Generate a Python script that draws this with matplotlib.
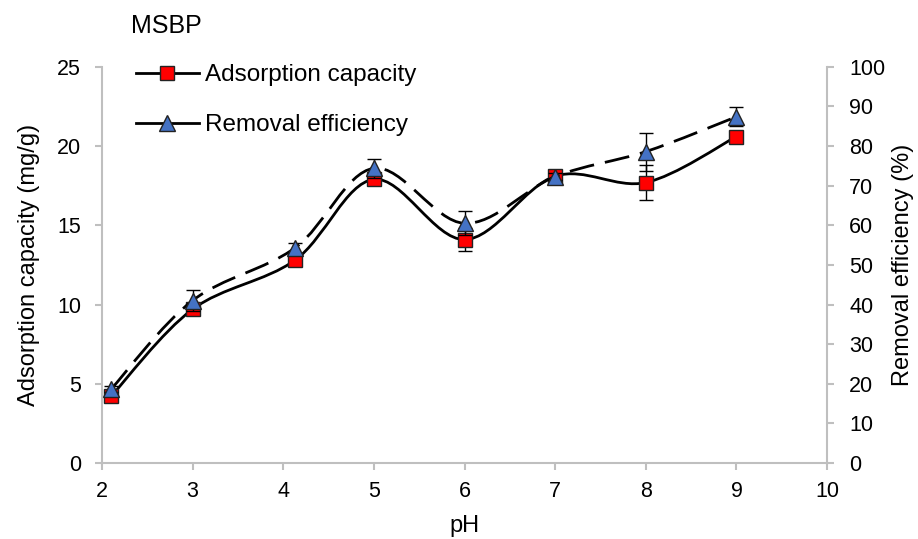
import numpy as np
import matplotlib.pyplot as plt
from matplotlib.path import Path
from matplotlib.patches import PathPatch
from matplotlib.lines import Line2D

plt.rcParams['font.family'] = ['Liberation Sans', 'DejaVu Sans']

# pH values and measured data
ph = [2.1, 3.0, 4.13, 5.0, 6.0, 7.0, 8.0, 9.0]
capacity = [4.2, 9.7, 12.8, 17.9, 14.1, 18.1, 17.7, 20.6]          # mg/g
capacity_err = [0.2, 0.3, 0.3, 0.3, 0.7, 0.2, 1.1, 0.3]
efficiency = [18.6, 41.0, 54.3, 74.4, 60.5, 72.3, 78.6, 87.4]      # %
efficiency_err = [0.8, 2.6, 1.2, 2.4, 3.0, 0.8, 4.8, 2.4]

grey = '#bfbfbf'


def smooth_path(x, y):
    # Excel-style smoothed line: cubic Bezier segments through every point
    x = np.asarray(x, float)
    y = np.asarray(y, float)
    pts = np.column_stack([x, y])
    n = len(pts)
    verts = [pts[0]]
    codes = [Path.MOVETO]
    for i in range(n - 1):
        p0 = pts[i - 1] if i > 0 else pts[i]
        p1 = pts[i]
        p2 = pts[i + 1]
        p3 = pts[i + 2] if i + 2 < n else pts[i + 1]
        c1 = p1 + (p2 - p0) / 6.0
        c2 = p2 - (p3 - p1) / 6.0
        verts += [c1, c2, p2]
        codes += [Path.CURVE4] * 3
    return Path(verts, codes)


fig = plt.figure(figsize=(9.18, 5.39), dpi=100)
ax = fig.add_axes([0.111, 0.141, 0.790, 0.735])
ax2 = ax.twinx()

# adsorption capacity on the left axis
ax.add_patch(PathPatch(smooth_path(ph, capacity), fill=False, edgecolor='black',
                       lw=2, zorder=2))
ax.errorbar(ph, capacity, yerr=capacity_err, fmt='none', ecolor='black',
            elinewidth=1, capsize=5, capthick=1, zorder=3)
ax.plot(ph, capacity, ls='none', marker='s', ms=10, mfc='#ff0000',
        mec='#222222', mew=1, zorder=4)

# removal efficiency on the right axis
ax2.add_patch(PathPatch(smooth_path(ph, efficiency), fill=False, edgecolor='black',
                        lw=2, linestyle=(0, (9, 4)), zorder=2))
ax2.errorbar(ph, efficiency, yerr=efficiency_err, fmt='none', ecolor='black',
             elinewidth=1, capsize=5, capthick=1, zorder=3)
ax2.plot(ph, efficiency, ls='none', marker='^', ms=11, mfc='#4472c4',
         mec='#222222', mew=1, zorder=4)

ax.set_xlim(2, 10)
ax.set_ylim(0, 25)
ax2.set_ylim(0, 100)
ax.set_xticks(range(2, 11))
ax.set_yticks(range(0, 26, 5))
ax2.set_yticks(range(0, 101, 10))

for a in (ax, ax2):
    a.spines['top'].set_visible(False)
    for sp in a.spines.values():
        sp.set_color(grey)
        sp.set_linewidth(1.5)
    a.tick_params(colors=grey, width=1.5, length=5, labelsize=15.5,
                  labelcolor='black')
ax.spines['right'].set_visible(False)
ax2.spines['left'].set_visible(False)
ax2.spines['bottom'].set_visible(False)
ax.tick_params(axis='y', pad=10)
ax.tick_params(axis='x', pad=8)
ax2.tick_params(axis='y', pad=11)

ax.set_xlabel('pH', fontsize=17, labelpad=9)
ax.set_ylabel('Adsorption capacity (mg/g)', fontsize=17, labelpad=12)
ax2.set_ylabel('Removal efficiency (%)', fontsize=17, labelpad=5)
fig.text(0.143, 0.952, 'MSBP', fontsize=18, va='center')

handles = [
    Line2D([], [], color='black', lw=2, marker='s', ms=10, mfc='#ff0000',
           mec='#222222'),
    Line2D([], [], color='black', lw=2, marker='^', ms=11, mfc='#4472c4',
           mec='#222222'),
]
ax.legend(handles, ['Adsorption capacity', 'Removal efficiency'],
          loc='upper left', bbox_to_anchor=(0.148, 0.881),
          bbox_transform=fig.transFigure, borderaxespad=0, borderpad=0,
          frameon=False, fontsize=17.5, handlelength=2.6, labelspacing=1.15,
          handletextpad=0.25)

fig.savefig('out.png', dpi=100)
